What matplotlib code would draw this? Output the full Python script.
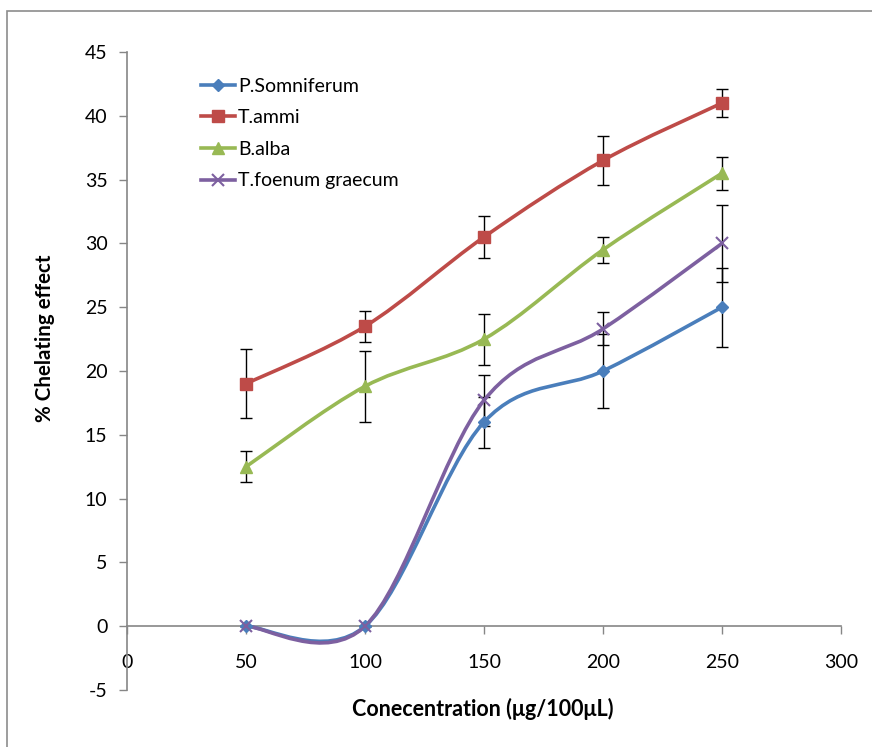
import numpy as np
import matplotlib
matplotlib.use("Agg")
import matplotlib.pyplot as plt
from matplotlib.path import Path
from matplotlib.patches import PathPatch, Rectangle
from matplotlib.lines import Line2D

plt.rcParams['font.family'] = ['Lato', 'DejaVu Sans']

conc = [50, 100, 150, 200, 250]
series_names = ["P.Somniferum", "T.ammi", "B.alba", "T.foenum graecum"]
p_somniferum = [0, 0, 16, 20, 25]
p_somniferum_err = [0, 0, 2.0, 2.9, 3.1]
t_ammi = [19, 23.5, 30.5, 36.5, 41]
t_ammi_err = [2.7, 1.2, 1.65, 1.9, 1.1]
b_alba = [12.5, 18.8, 22.5, 29.5, 35.5]
b_alba_err = [1.2, 2.8, 2.0, 1.0, 1.3]
t_foenum = [0, 0, 17.7, 23.3, 30]
t_foenum_err = [0, 0, 2.0, 1.3, 3.0]

x_ticks = [0, 50, 100, 150, 200, 250, 300]
y_ticks = [-5, 0, 5, 10, 15, 20, 25, 30, 35, 40, 45]

colors = ["#4A7EBB", "#BE4B48", "#98B954", "#7D60A0"]
markers = ["D", "s", "^", "x"]
msizes = [6, 8, 8, 8]

fig = plt.figure(figsize=(8.72, 7.47), dpi=100)
# figure border (top and left visible)
fig.patches.append(Rectangle((7/872, -0.05), 1.2, (747-11)/747 + 0.05, transform=fig.transFigure,
                             fill=False, edgecolor="#8C8C8C", linewidth=1.2))
ax = fig.add_axes([127/872, (747-690)/747, (841-127)/872, (690-52)/747])


def smooth_path(xs, ys):
    xs = np.asarray(xs, float); ys = np.asarray(ys, float)
    n = len(xs)
    verts = [(xs[0], ys[0])]
    codes = [Path.MOVETO]
    for i in range(n - 1):
        p0 = (xs[i-1], ys[i-1]) if i > 0 else (xs[i], ys[i])
        p1 = (xs[i], ys[i]); p2 = (xs[i+1], ys[i+1])
        p3 = (xs[i+2], ys[i+2]) if i + 2 < n else (xs[i+1], ys[i+1])
        c1 = (p1[0] + (p2[0]-p0[0])/6, p1[1] + (p2[1]-p0[1])/6)
        c2 = (p2[0] - (p3[0]-p1[0])/6, p2[1] - (p3[1]-p1[1])/6)
        verts += [c1, c2, p2]
        codes += [Path.CURVE4]*3
    return Path(verts, codes)


all_y = [p_somniferum, t_ammi, b_alba, t_foenum]
all_e = [p_somniferum_err, t_ammi_err, b_alba_err, t_foenum_err]
handles = []
for name, ys, es, c, m, ms in zip(series_names, all_y, all_e, colors, markers, msizes):
    ax.errorbar(conc, ys, yerr=es, fmt='none', ecolor='black', elinewidth=1.0,
                capsize=4, capthick=1.0, zorder=2)
    ax.add_patch(PathPatch(smooth_path(conc, ys), facecolor='none', edgecolor=c,
                           linewidth=2.6, zorder=3, capstyle='round'))
    if m == 'x':
        ax.plot(conc, ys, linestyle='none', marker=m, markersize=ms, markeredgecolor=c,
                markeredgewidth=1.5, zorder=4)
    else:
        ax.plot(conc, ys, linestyle='none', marker=m, markersize=ms, markerfacecolor=c,
                markeredgecolor=c, zorder=4)
    handles.append(Line2D([], [], color=c, linewidth=2.6, marker=m, markersize=ms,
                          markerfacecolor=c, markeredgecolor=c,
                          markeredgewidth=1.5 if m == 'x' else 1.0))

ax.set_xlim(0, 300)
ax.set_ylim(-5, 45)
ax.set_xticks(x_ticks)
ax.set_yticks(y_ticks)
ax.set_xticklabels([str(v) for v in x_ticks])
ax.set_yticklabels([str(v) for v in y_ticks])

for s in ["top", "right"]:
    ax.spines[s].set_visible(False)
ax.spines["bottom"].set_position(("data", 0))
for s in ["left", "bottom"]:
    ax.spines[s].set_color("#868686")
    ax.spines[s].set_linewidth(1.2)
ax.tick_params(axis='both', direction='out', length=6, width=1.0, color="#868686",
               labelsize=14, labelcolor="black")
ax.tick_params(axis='x', pad=14)
ax.tick_params(axis='y', pad=8)

fig.text(45/872, 1 - 338/747, "% Chelating effect", rotation=90, ha='center', va='center',
         fontsize=14.8, fontweight='bold')
fig.text(483/872, 1 - 709/747, "Conecentration (μg/100μL)", ha='center', va='center',
         fontsize=15.5, fontweight='bold')

leg = ax.legend(handles, series_names, loc='upper left', bbox_to_anchor=(0.093, 0.972),
                frameon=False, fontsize=14, handlelength=1.75, handletextpad=0.15,
                labelspacing=0.75, borderaxespad=0)

fig.savefig("out.png", dpi=100)
